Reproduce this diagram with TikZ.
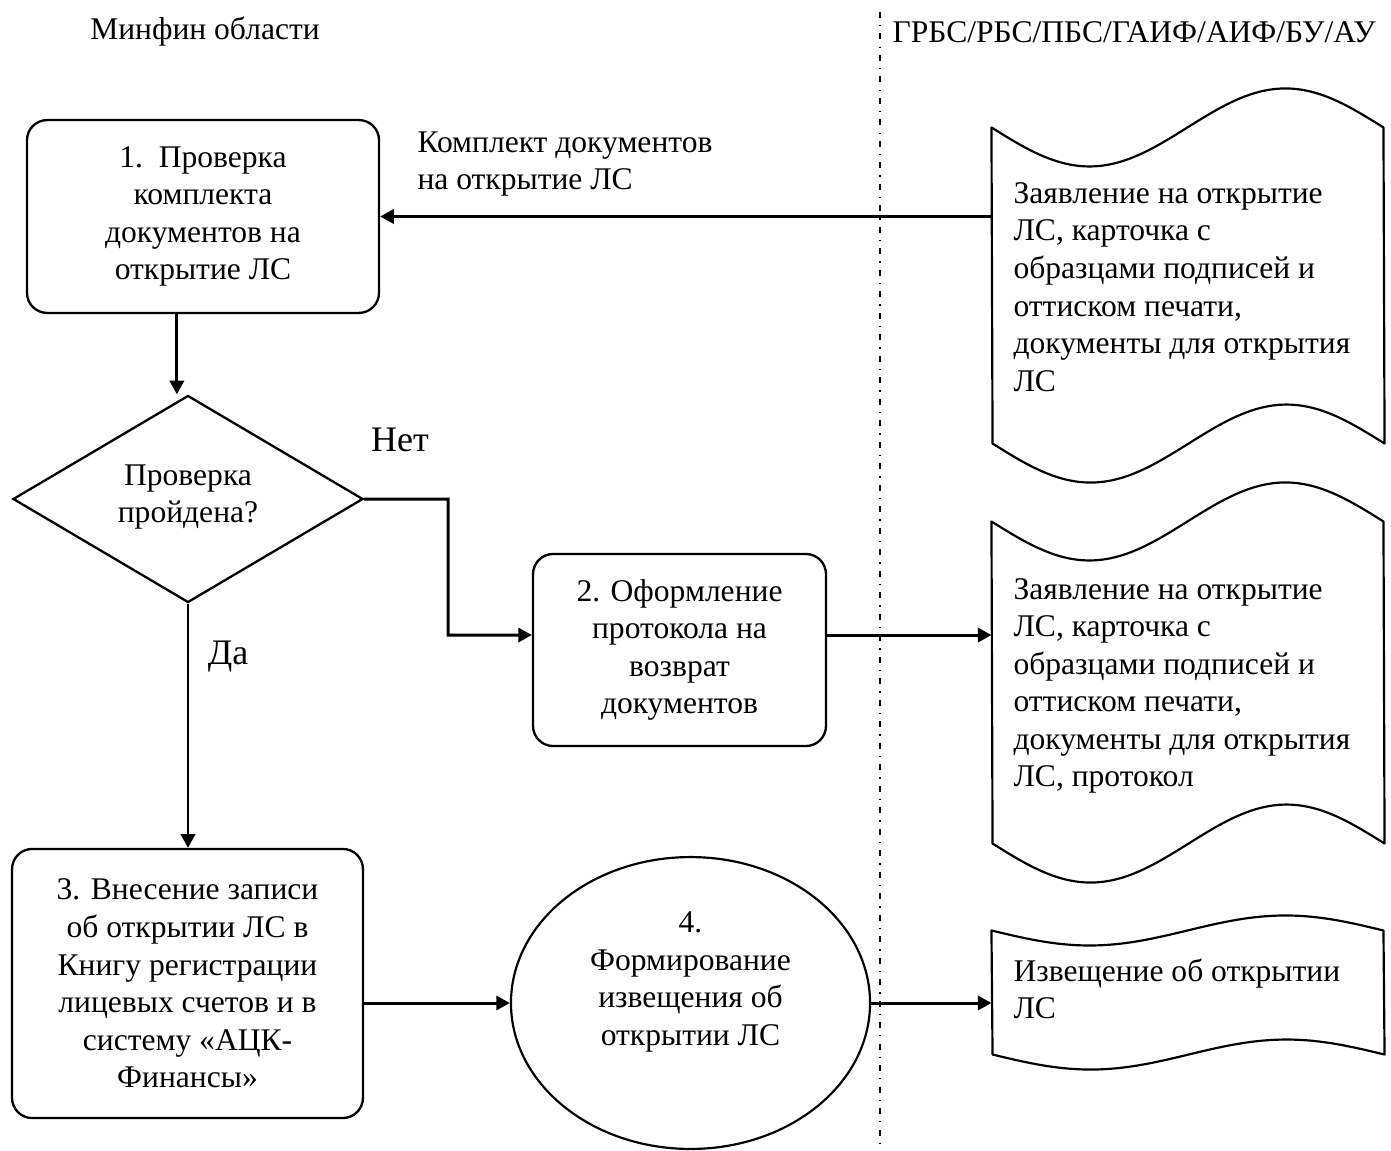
\documentclass[tikz,border=0pt]{standalone}
\usepackage{fontspec}
\setmainfont{Liberation Serif}
\usetikzlibrary{shapes.geometric,arrows.meta}
\begin{document}
\begin{tikzpicture}[x=0.3676pt,y=-0.3676pt,
  font=\fontsize{11.6pt}{13.8pt}\selectfont,
  box/.style={draw, line width=0.85pt, rounded corners=7.4pt, align=center, inner sep=0pt},
  dia/.style={draw, diamond, aspect=1.69, line width=0.85pt, align=center, inner sep=0pt},
  ell/.style={draw, ellipse, line width=0.8pt, inner sep=0pt},
  docn/.style={inner sep=0pt},
  docline/.style={line width=0.8pt, line join=round},
  doctext/.style={align=left, inner sep=0pt, anchor=west},
  arr/.style={line width=1.1pt, -{Triangle[length=5pt,width=5.2pt]}},
  sep/.style={line width=0.5pt, dash pattern=on 2.2pt off 2.6pt on 0.5pt off 2.6pt},
  big/.style={font=\fontsize{13.2pt}{15pt}\selectfont}
]
\useasboundingbox (0,0) rectangle (1391,1150);

% separator
\coordinate (s1) at (880,12);
\coordinate (s2) at (880,1150);
\draw[sep] (s1) -- (s2);

% headers
\node (h1) at (205,32) {Минфин области};
\node[anchor=west, inner sep=0pt] (h2) at (892,32) {ГРБС/РБС/ПБС/ГАИФ/АИФ/БУ/АУ};

% process nodes
\node[box, minimum width=129.4pt, minimum height=70.9pt] (b1) at (203,216.5)
  {1.\ \ Проверка\\комплекта\\документов на\\открытие ЛС};
\node[dia, minimum width=128.7pt, minimum height=76.1pt] (d) at (188,499) {};
\node[align=center, inner sep=0pt] (dt) at (188,497) {Проверка\\пройдена?};
\node[box, minimum width=107.7pt, minimum height=70.6pt] (b2) at (679.5,650)
  {2. Оформление\\протокола на\\возврат\\документов};
\node[box, minimum width=129pt, minimum height=98.9pt] (b3) at (187.5,983.5)
  {3. Внесение записи\\об открытии ЛС в\\Книгу регистрации\\лицевых счетов и в\\систему «АЦК-\\Финансы»};
\node[ell, minimum width=132pt, minimum height=107.3pt] (e) at (690.5,1003) {};
\node[align=center, inner sep=0pt] (et) at (690.5,982) {4.\\Формирование\\извещения об\\открытии ЛС};

% documents (punched tape)
\node[docn, minimum width=144.1pt, minimum height=115.8pt] (doc1) at (1188,285.5) {};
\draw[docline] (doc1.north west) sin ++(98,39) cos ++(98,-39) sin ++(98,-39) cos ++(98,39)
  -- (doc1.south east) sin ++(-98,-39) cos ++(-98,39) sin ++(-98,39) cos ++(-98,-39) -- cycle;
\node[doctext] (t1) at (1013,287) {Заявление на открытие\\ЛС, карточка с\\образцами подписей и\\оттиском печати,\\документы для открытия\\ЛС};

\node[docn, minimum width=144.1pt, minimum height=118pt] (doc2) at (1188,682.5) {};
\draw[docline] (doc2.north west) sin ++(98,39) cos ++(98,-39) sin ++(98,-39) cos ++(98,39)
  -- (doc2.south east) sin ++(-98,-39) cos ++(-98,39) sin ++(-98,39) cos ++(-98,-39) -- cycle;
\node[doctext] (t2) at (1013,686) {Заявление на открытие\\ЛС, карточка с\\образцами подписей и\\оттиском печати,\\документы для открытия\\ЛС, протокол};

\node[docn, minimum width=144.1pt, minimum height=45.2pt] (doc3) at (1188,992.5) {};
\draw[docline] (doc3.north west) sin ++(98,15) cos ++(98,-15) sin ++(98,-15) cos ++(98,15)
  -- (doc3.south east) sin ++(-98,-15) cos ++(-98,15) sin ++(-98,15) cos ++(-98,-15) -- cycle;
\node[doctext] (t3) at (1013,989) {Извещение об открытии\\ЛС};

% connectors
\draw[arr] (b1.east -| doc1.west) -- (b1.east);
\node[align=left, anchor=west, inner sep=0pt] (lab1) at (417,164) {Комплект документов\\на открытие ЛС};

\draw[arr] ([xshift=-9.6pt]b1.south) -- ([xshift=-9.6pt]b1.south |- d.north);

\coordinate (k2) at ([yshift=5.5pt]b2.west);
\coordinate (bend) at (448,635);
\draw[arr, line join=miter] (d.east) -| (bend) -- (k2);
\node[big] (net) at (400,440) {Нет};

\draw[arr] ([yshift=5.5pt]b2.east) -- ([yshift=5.5pt]b2.east -| doc2.west);

\draw[arr] (d.south) -- (d.south |- b3.north);
\node[big] (da) at (228,657) {Да};

\draw[arr] (e.west -| b3.east) -- (e.west);
\draw[arr] (e.east) -- (e.east -| doc3.west);
\end{tikzpicture}
\end{document}
